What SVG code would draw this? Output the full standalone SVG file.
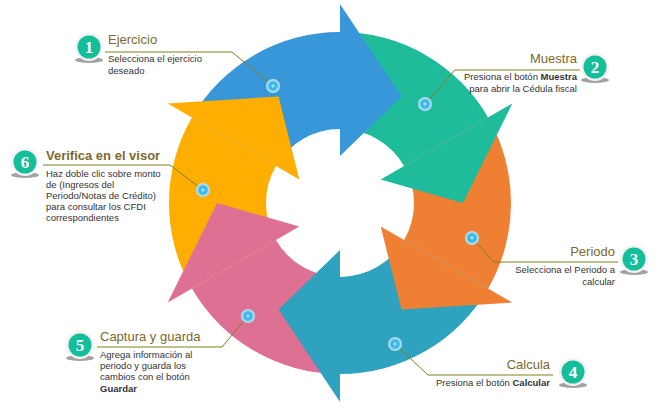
<svg xmlns="http://www.w3.org/2000/svg" width="659" height="415" viewBox="0 0 659 415">
<defs>
<style>
.t{font-family:"Liberation Sans",Arial,sans-serif;font-size:13px;fill:#7b6a2e}
.d{font-family:"Liberation Sans",Arial,sans-serif;font-size:9.5px;fill:#333}
.n{font-family:"Liberation Serif","Times New Roman",serif;font-size:17px;font-weight:bold;fill:#fff;text-anchor:middle}
.ld{fill:none;stroke:#80801a;stroke-width:1}
.e{text-anchor:end}
</style>
<radialGradient id="dot"><stop offset="0" stop-color="#e8fbff"/><stop offset="0.3" stop-color="#3cb9ec"/><stop offset="0.6" stop-color="#45b6e8"/><stop offset="0.75" stop-color="#9ed8ef"/><stop offset="1" stop-color="#b5e2f0"/></radialGradient>
<g id="badge"><ellipse cx="0" cy="13" rx="14" ry="3" fill="#666" opacity="0.6"/><circle r="14" fill="#f2f2f2"/><circle r="11.5" fill="#14be9b"/></g>
</defs>
<rect width="659" height="415" fill="#fff"/>
<g id="ring">
<path fill="#3897d8" d="M191.9,117.5 A171,171 0 0 1 340,32 L340,129 A74,74 0 0 0 275.9,166 Z"/>
<path fill="#1fbc9c" d="M340,32 A171,171 0 0 1 488.1,117.5 L404.1,166 A74,74 0 0 0 340,129 Z"/>
<path fill="#ee7f33" d="M488.1,117.5 A171,171 0 0 1 488.1,288.5 L404.1,240 A74,74 0 0 0 404.1,166 Z"/>
<path fill="#2ea2bf" d="M488.1,288.5 A171,171 0 0 1 340,374 L340,277 A74,74 0 0 0 404.1,240 Z"/>
<path fill="#dd7093" d="M340,374 A171,171 0 0 1 191.9,288.5 L275.9,240 A74,74 0 0 0 340,277 Z"/>
<path fill="#fdae00" d="M191.9,288.5 A171,171 0 0 1 191.9,117.5 L275.9,166 A74,74 0 0 0 275.9,240 Z"/>
<polygon fill="#3897d8" points="340,4 401.5,96.5 340,156"/>
<polygon fill="#1fbc9c" points="512.3,103.5 463,203 380.7,179.5"/>
<polygon fill="#ee7f33" points="512.3,302.5 401.5,309.5 380.7,226.5"/>
<polygon fill="#2ea2bf" points="340,402 278.5,309.5 340,250"/>
<polygon fill="#dd7093" points="167.7,302.5 217,203 299.3,226.5"/>
<polygon fill="#fdae00" points="167.7,103.5 278.5,96.5 299.3,179.5"/>
</g>
<g id="connectors">
<polyline class="ld" points="273,86 232,52 105,52"/>
<polyline class="ld" points="425,104 455,70 580,70"/>
<polyline class="ld" points="472,238 494,262 618,262"/>
<polyline class="ld" points="395,344 428,375 553,375"/>
<polyline class="ld" points="248,316 222,347 97,347"/>
<polyline class="ld" points="203,190 170,165 43,165"/>
</g>
<g id="dots" fill="url(#dot)">
<circle cx="273" cy="86" r="7"/><circle cx="425" cy="104" r="7"/><circle cx="472" cy="238" r="7"/>
<circle cx="395" cy="344" r="7"/><circle cx="248" cy="316" r="7"/><circle cx="203" cy="190" r="7"/>
</g>
<g id="n1"><use href="#badge" x="89" y="47"/><text class="n" x="89" y="53">1</text>
<text class="t" x="108" y="44">Ejercicio</text>
<text class="d" x="108" y="62">Selecciona el ejercicio</text><text class="d" x="108" y="74">deseado</text></g>
<g id="n2"><use href="#badge" x="595" y="67"/><text class="n" x="595" y="73">2</text>
<text class="t e" x="577" y="63">Muestra</text>
<text class="d e" x="577" y="80">Presiona el botón <tspan font-weight="bold">Muestra</tspan></text><text class="d e" x="577" y="92">para abrir la Cédula fiscal</text></g>
<g id="n3"><use href="#badge" x="634" y="259"/><text class="n" x="634" y="265">3</text>
<text class="t e" x="615" y="256">Periodo</text>
<text class="d e" x="615" y="273">Selecciona el Periodo a</text><text class="d e" x="615" y="285">calcular</text></g>
<g id="n4"><use href="#badge" x="573" y="372"/><text class="n" x="573" y="378">4</text>
<text class="t e" x="550" y="369">Calcula</text>
<text class="d e" x="550" y="386">Presiona el botón <tspan font-weight="bold">Calcular</tspan></text></g>
<g id="n5"><use href="#badge" x="80" y="345"/><text class="n" x="80" y="351">5</text>
<text class="t" x="100" y="341">Captura y guarda</text>
<text class="d" x="100" y="358">Agrega información al</text><text class="d" x="100" y="369">periodo y guarda los</text><text class="d" x="100" y="380">cambios con el botón</text><text class="d" x="100" y="392" font-weight="bold">Guardar</text></g>
<g id="n6"><use href="#badge" x="25" y="162"/><text class="n" x="25" y="168">6</text>
<text class="t" x="46" y="160" font-weight="bold">Verifica en el visor</text>
<text class="d" x="46" y="177">Haz doble clic sobre monto</text><text class="d" x="46" y="188">de (Ingresos del</text><text class="d" x="46" y="199">Periodo/Notas de Crédito)</text><text class="d" x="46" y="210">para consultar los CFDI</text><text class="d" x="46" y="221">correspondientes</text></g>
</svg>
